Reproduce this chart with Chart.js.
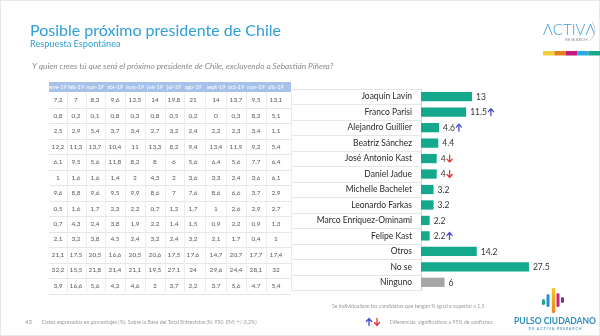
<!DOCTYPE html>
<html>
<head>
<meta charset="utf-8">
<script src="https://cdn.jsdelivr.net/npm/chart.js@4.4.1/dist/chart.umd.min.js"></script>
<style>
  html, body { margin: 0; padding: 0; background: #ffffff; }
  #wrap { position: relative; width: 600px; height: 336px; }
</style>
</head>
<body>
<div id="wrap"><canvas id="chart" width="600" height="336"></canvas></div>
<script>
// Candidates, latest share (%) and significance flags
const candidates = ['Joaquín Lavín', 'Franco Parisi', 'Alejandro Guillier', 'Beatriz Sánchez', 'José Antonio Kast', 'Daniel Jadue', 'Michelle Bachelet', 'Leonardo Farkas', 'Marco Enríquez-Ominami', 'Felipe Kast', 'Otros', 'No se', 'Ninguno'];
const currentShare = [13, 11.5, 4.6, 4.4, 4, 4, 3.2, 3.2, 2.2, 2.2, 14.2, 27.5, 6];
const significance = ['', 'up', 'up', '', 'down', 'down', '', '', '', 'up', '', '', ''];

// Monthly history table (2019)
const months = ['ene-19', 'feb-19', 'mar-19', 'abr-19', 'may-19', 'jun-19', 'jul-19', 'ago-19', 'sept-19', 'oct-19', 'nov-19', 'dic-19'];
const histLavin    = [7.2, 7, 8.3, 9.6, 12.5, 14, 19.8, 21, 14, 13.7, 9.5, 13.1];
const histParisi   = [0.8, 0.2, 0.1, 0.8, 0.3, 0.8, 0.5, 0.2, 0, 0.3, 8.2, 5.1];
const histGuillier = [2.5, 2.9, 5.4, 3.7, 3.4, 2.7, 3.2, 2.4, 2.2, 2.3, 3.4, 1.1];
const histSanchez  = [12.2, 11.3, 13.7, 10.4, 11, 13.3, 8.2, 9.4, 13.4, 11.9, 9.2, 5.4];
const histJAKast   = [6.1, 9.5, 5.6, 11.8, 8.2, 8, 6, 5.6, 6.4, 5.6, 7.7, 6.4];
const histJadue    = [1, 1.6, 1.6, 1.4, 2, 4.3, 2, 3.6, 3.3, 2.4, 3.6, 6.1];
const histBachelet = [9.6, 8.8, 9.6, 9.5, 9.9, 8.6, 7, 7.6, 8.6, 6.6, 3.7, 2.9];
const histFarkas   = [0.5, 1.6, 1.7, 2.3, 2.2, 0.7, 1.2, 1.7, 1, 2.6, 2.9, 2.7];
const histMEO      = [0.7, 4.3, 2.4, 3.8, 1.9, 2.2, 1.4, 1.5, 0.9, 2.2, 0.9, 1.3];
const histFKast    = [2.1, 3.2, 3.8, 4.5, 2.4, 3.2, 2.4, 3.2, 2.1, 1.7, 0.4, 1];
const histOtros    = [21.1, 17.5, 20.5, 16.6, 20.5, 20.6, 17.5, 17.6, 14.7, 20.7, 17.7, 17.4];
const histNoSe     = [32.2, 15.5, 21.8, 21.4, 21.1, 19.5, 27.1, 24, 29.6, 24.4, 28.1, 32];
const histNinguno  = [3.9, 16.6, 5.6, 4.2, 4.6, 2, 3.7, 2.2, 3.7, 5.6, 4.7, 5.4];
const historyRows = [histLavin, histParisi, histGuillier, histSanchez, histJAKast, histJadue, histBachelet, histFarkas, histMEO, histFKast, histOtros, histNoSe, histNinguno];

// Layout and style
const FONT = 'Lato, "Open Sans", sans-serif';
const TEAL = '#14a88c';
const GREY_BAR = '#a6a6a6';
const BLUE = '#2f9fd8';
const colCenters = [58, 76, 95, 115, 135, 155, 174, 193, 216, 236, 256, 276];
const colEdges = [49, 67, 85.5, 105, 125, 145, 164.5, 183.5, 204.5, 226, 246, 266, 291];
const TABLE_SHIFT = 3.5;   // table rows sit slightly below the bar rows

const fmt = v => String(v).replace('.', ',');

function arrow(ctx, x, y, dir, color) {
  // small arrow centred on (x, y)
  const h = 7, w = 2.6, s = dir === 'up' ? -1 : 1;
  ctx.save();
  ctx.strokeStyle = color;
  ctx.lineWidth = 1.3;
  ctx.lineCap = 'round';
  ctx.beginPath();
  ctx.moveTo(x, y - s * h / 2);
  ctx.lineTo(x, y + s * h / 2);
  ctx.moveTo(x - w, y + s * (h / 2 - 3));
  ctx.lineTo(x, y + s * h / 2);
  ctx.lineTo(x + w, y + s * (h / 2 - 3));
  ctx.stroke();
  ctx.restore();
}

const decor = {
  id: 'decor',
  beforeDatasetsDraw(chart) {
    const { ctx, chartArea: area } = chart;
    const ys = chart.scales.y;
    const n = candidates.length;
    const rowH = (area.bottom - area.top) / n;
    const tableRight = colEdges[colEdges.length - 1];
    ctx.save();
    ctx.lineWidth = 1;
    ctx.strokeStyle = '#e6e6e6';
    // row separators: label column follows the bars, table follows its rows
    for (let i = 0; i <= n; i++) {
      const yl = Math.round(area.top + i * rowH) + 0.5;
      ctx.beginPath(); ctx.moveTo(tableRight, yl); ctx.lineTo(area.left, yl); ctx.stroke();
      if (i > 0) {
        const yt = Math.round(area.top + i * rowH + TABLE_SHIFT) + 0.5;
        ctx.beginPath(); ctx.moveTo(colEdges[0], yt); ctx.lineTo(tableRight, yt); ctx.stroke();
      }
    }
    // header band
    const hTop = area.top - 7, hBot = area.top + 3;
    ctx.fillStyle = '#a7c2ea';
    ctx.fillRect(colEdges[0], hTop, tableRight - colEdges[0], hBot - hTop);
    // column separators
    ctx.strokeStyle = '#ececec';
    for (let k = 1; k < colEdges.length; k++) {
      const xx = Math.round(colEdges[k]) + 0.5;
      ctx.beginPath(); ctx.moveTo(xx, hBot); ctx.lineTo(xx, area.bottom + 2); ctx.stroke();
    }
    // header labels
    ctx.fillStyle = '#ffffff';
    ctx.font = '5.5px ' + FONT;
    ctx.textAlign = 'center';
    ctx.textBaseline = 'middle';
    months.forEach((m, k) => ctx.fillText(m, colCenters[k], (hTop + hBot) / 2));
    // table values
    ctx.fillStyle = '#595959';
    ctx.font = '6.5px ' + FONT;
    historyRows.forEach((row, i) => {
      const yy = ys.getPixelForValue(i) + TABLE_SHIFT;
      row.forEach((v, k) => ctx.fillText(fmt(v), colCenters[k], yy));
    });
    ctx.restore();
  },
  afterDatasetsDraw(chart) {
    const { ctx } = chart;
    const meta = chart.getDatasetMeta(0);
    ctx.save();
    ctx.font = '8.5px ' + FONT;
    ctx.fillStyle = '#333333';
    ctx.textAlign = 'left';
    ctx.textBaseline = 'middle';
    meta.data.forEach((bar, i) => {
      const label = String(currentShare[i]);
      const tx = bar.x + 4;
      ctx.fillText(label, tx, bar.y + 0.5);
      const w = ctx.measureText(label).width;
      if (significance[i] === 'up') arrow(ctx, tx + w + 4, bar.y, 'up', '#4a4ad8');
      if (significance[i] === 'down') arrow(ctx, tx + w + 4, bar.y, 'down', '#e5333f');
    });
    ctx.restore();
  },
  afterDraw(chart) {
    const { ctx } = chart;
    ctx.save();
    // slide frame
    ctx.strokeStyle = '#e8e8e8';
    ctx.lineWidth = 1;
    ctx.strokeRect(0.5, 0.5, 599, 335);
    // titles
    ctx.textAlign = 'left';
    ctx.textBaseline = 'alphabetic';
    ctx.fillStyle = BLUE;
    ctx.font = '16px ' + FONT;
    ctx.fillText('Posible próximo presidente de Chile', 30, 36);
    ctx.font = '9.2px ' + FONT;
    ctx.fillText('Respuesta Espontánea', 30, 47);
    ctx.fillStyle = '#8a8a8a';
    ctx.font = 'italic 8.3px ' + FONT;
    ctx.fillText('Y quien crees tú que será el próximo presidente de Chile, excluyendo a Sebastián Piñera?', 32, 69);

    // header logo
    ctx.font = '300 15px ' + FONT;
    ctx.fillStyle = '#3a9bd8';
    ctx.fillText('ΛCTIVΛ', 543, 35);
    ctx.fillStyle = '#9a9a9a';
    ctx.font = '4.5px ' + FONT;
    ctx.fillText('RESEARCH', 565, 41);
    ctx.strokeStyle = '#d0d0d0';
    ctx.beginPath(); ctx.arc(582, 30, 13, -0.7, 1.0); ctx.stroke();
    const strip = ['#f4cf3a', '#e4821e', '#c3197b', '#26aee4', '#17a98a'];
    strip.forEach((c, k) => { ctx.fillStyle = c; ctx.fillRect(543 + k * 11.4, 51, 11.4, 4.5); });

    // footnotes
    ctx.fillStyle = '#9a9a9a';
    ctx.font = '5.2px ' + FONT;
    ctx.fillText('Se individualizan los candidatos que tengan % igual o superior a 1,5.', 332, 308);
    ctx.fillText('Diferencias  significativas a 95% de confianza', 390, 324);
    ctx.fillText('Datos expresados en porcentajes (%). Sobre la Base del Total Entrevistas (N: 950  EM: +/-3,2%)', 42, 324);
    ctx.font = '6px ' + FONT;
    ctx.fillText('43', 25, 324);
    arrow(ctx, 369, 322, 'up', '#4a4ad8');
    arrow(ctx, 377, 322, 'down', '#e5333f');

    // Pulso Ciudadano mark
    const marks = [
      { x: 543.5, t: 299, b: 305, c: '#1aa891' },
      { x: 548, t: 294, b: 307, c: '#2a8fd0' },
      { x: 553.5, t: 288, b: 313, c: 'grad' },
      { x: 558, t: 293, b: 307, c: '#c9237d' },
      { x: 562.5, t: 297, b: 303, c: '#8e2c8c' }
    ];
    ctx.lineCap = 'round';
    marks.forEach(m => {
      if (m.c === 'grad') {
        const g = ctx.createLinearGradient(0, m.t, 0, m.b);
        g.addColorStop(0, '#f6c428'); g.addColorStop(1, '#ee861e');
        ctx.strokeStyle = g;
      } else ctx.strokeStyle = m.c;
      ctx.lineWidth = m.c === 'grad' ? 3.4 : 3;
      ctx.beginPath(); ctx.moveTo(m.x, m.t + 1.5); ctx.lineTo(m.x, m.b - 1.5); ctx.stroke();
    });
    ctx.textAlign = 'center';
    ctx.fillStyle = '#2b8fc0';
    ctx.font = 'bold 8.5px ' + FONT;
    ctx.fillText('PULSO CIUDADANO', 555, 324);
    ctx.font = 'bold 3.6px ' + FONT;
    ctx.fillStyle = '#5a9fc4';
    ctx.fillText('D E   A C T I V A   R E S E A R C H', 555, 330);
    ctx.restore();
  }
};

new Chart(document.getElementById('chart'), {
  type: 'bar',
  data: {
    labels: candidates,
    datasets: [{
      data: currentShare,
      backgroundColor: ctx => candidates[ctx.dataIndex] === 'Ninguno' ? GREY_BAR : TEAL,
      borderWidth: 0,
      categoryPercentage: 1,
      barPercentage: 0.6
    }]
  },
  options: {
    responsive: false,
    animation: false,
    indexAxis: 'y',
    layout: { padding: { top: 89, bottom: 46, left: 0, right: 22 } },
    plugins: { legend: { display: false }, tooltip: { enabled: false } },
    scales: {
      x: { display: false, min: 0, max: 40 },
      y: {
        afterFit: s => { s.width = 421; },
        grid: { display: false, drawTicks: false },
        border: { display: true, color: '#d6d6d6', width: 1 },
        ticks: { padding: 9, color: '#2a2a2a', font: { family: FONT, size: 8.5 } }
      }
    }
  },
  plugins: [decor]
});
</script>
</body>
</html>
